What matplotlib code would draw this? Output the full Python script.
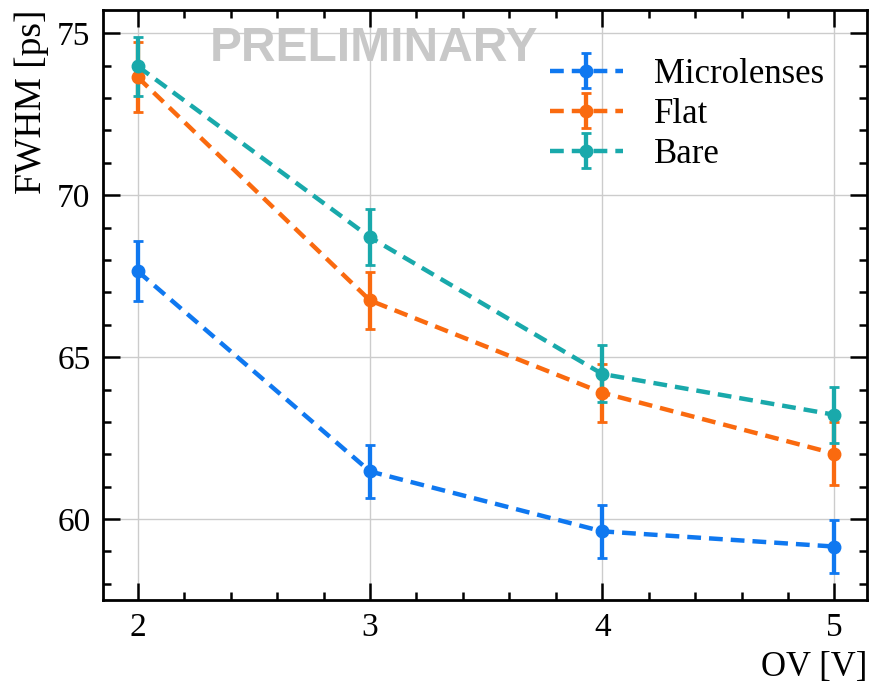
import matplotlib
matplotlib.use('Agg')
import matplotlib.pyplot as plt
from matplotlib.ticker import MultipleLocator

# data
ov = [2, 3, 4, 5]
micro = [67.65, 61.47, 59.62, 59.15]
micro_err = [0.93, 0.83, 0.82, 0.82]
flat = [73.64, 66.75, 63.90, 62.02]
flat_err = [1.08, 0.88, 0.90, 0.98]
bare = [73.98, 68.70, 64.48, 63.22]
bare_err = [0.92, 0.87, 0.88, 0.86]

labels = ['Microlenses', 'Flat', 'Bare']
colors = ['#0f78f0', '#fa6a0f', '#19a9ab']

plt.rcParams['font.family'] = ['Liberation Serif', 'DejaVu Serif']
plt.rcParams['mathtext.fontset'] = 'stix'

fig = plt.figure(figsize=(8.7, 6.84), dpi=100)
ax = fig.add_axes([103/870, 84/684, 764/870, 590/684])

for y, e, lab, c in zip([micro, flat, bare], [micro_err, flat_err, bare_err], labels, colors):
    ax.errorbar(ov, y, yerr=e, fmt='o--', color=c, label=lab, lw=3.2,
                ms=9, elinewidth=3.1, capsize=3.5, capthick=2, dashes=(3.1, 1.8))

ax.set_xlim(1.85, 5.14)
ax.set_ylim(57.5, 75.72)
ax.xaxis.set_major_locator(MultipleLocator(1))
ax.xaxis.set_minor_locator(MultipleLocator(0.2))
ax.yaxis.set_major_locator(MultipleLocator(5))
ax.yaxis.set_minor_locator(MultipleLocator(1))
ax.tick_params(which='both', direction='in', top=True, right=True, labelsize=24, width=1.8)
ax.tick_params(which='major', length=12, pad=9)
ax.tick_params(which='minor', length=6)
for s in ax.spines.values():
    s.set_linewidth(2)
ax.grid(True, which='major', color='#cccccc', lw=1)
ax.set_axisbelow(True)

ax.set_xlabel('OV [V]', fontsize=25, loc='right', labelpad=6)
ax.set_ylabel('FWHM [ps]', fontsize=27, loc='top', labelpad=6)

ax.text(0.355, 0.935, 'PRELIMINARY', transform=ax.transAxes, ha='center', va='center',
        fontsize=34.5, fontweight='bold', color='#c8c8c8', family=['Liberation Sans', 'DejaVu Sans'])

ax.legend(loc='upper right', frameon=False, fontsize=25, handlelength=2.1,
          bbox_to_anchor=(0.985, 0.972), labelspacing=0.2, handletextpad=0.9)

fig.savefig('out.png', dpi=100)
